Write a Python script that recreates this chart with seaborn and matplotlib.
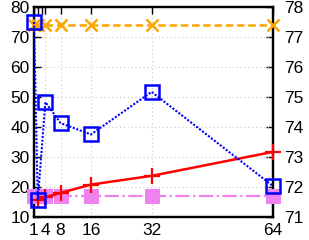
import matplotlib
matplotlib.use("Agg")
import matplotlib.pyplot as plt
import seaborn as sns
import pandas as pd

sns.set_style("white")
plt.rcParams['font.family'] = ['Liberation Sans', 'DejaVu Sans']

x = [1, 2, 4, 8, 16, 32, 64]
orange_vals = [74, 74, 74, 74, 74, 74, 74]
blue_vals = [75, 15.7, 48.3, 41.3, 37.5, 51.7, 20.3]
pink_vals = [17, 17, 17, 17, 17, 17, 17]
red_x = [2, 4, 8, 16, 32, 64]
red_vals = [15.7, 16.6, 18.0, 20.8, 23.7, 31.7]

xticks = [1, 4, 8, 16, 32, 64]
left_ticks = [10, 20, 30, 40, 50, 60, 70, 80]
right_ticks = [71, 72, 73, 74, 75, 76, 77, 78]

fig = plt.figure(figsize=(3.09, 2.40), dpi=100)
ax = fig.add_axes([0.110, 0.096, 0.7735, 0.875])

grid_kw = dict(color='#c8c8c8', linestyle=(0, (1, 2.5)), linewidth=0.8)
ax.set_axisbelow(True)
ax.grid(True, **grid_kw)

df = pd.DataFrame({'x': x, 'orange': orange_vals, 'blue': blue_vals,
                   'pink': pink_vals})
df_red = pd.DataFrame({'x': red_x, 'red': red_vals})

sns.lineplot(data=df, x='x', y='pink', ax=ax, color='#ee82ee', linewidth=1.6,
             linestyle='-.', marker='s', markersize=10, markeredgecolor='#ee82ee',
             markerfacecolor='#ee82ee', estimator=None, sort=False)
sns.lineplot(data=df_red, x='x', y='red', ax=ax, color='#ff0000', linewidth=1.8,
             linestyle='-', marker='+', markersize=11, markeredgewidth=1.6,
             markeredgecolor='#ff0000', estimator=None, sort=False)
sns.lineplot(data=df, x='x', y='orange', ax=ax, color='#ffa500', linewidth=1.8,
             linestyle=(0, (3, 1.5)), marker='x', markersize=9, markeredgewidth=1.8,
             markeredgecolor='#ffa500', estimator=None, sort=False)
sns.lineplot(data=df, x='x', y='blue', ax=ax, color='#0000ff', linewidth=1.5,
             linestyle=(0, (1, 0.8)), marker='s', markersize=10, markeredgewidth=1.8,
             markerfacecolor='none', markeredgecolor='#0000ff', estimator=None, sort=False)
for ln in ax.lines:
    ln.set_clip_on(False)
    ln.set_zorder(3)

ax.set_xlim(1, 64)
ax.set_ylim(10, 80)
ax.set_xticks(xticks)
ax.set_xticklabels([str(t) for t in xticks])
ax.set_xticks([2, 3], minor=True)
ax.set_yticks(left_ticks)
ax.set_xlabel('')
ax.set_ylabel('')
ax.tick_params(axis='both', which='both', direction='in', labelsize=12.5,
               length=5, width=1, colors='black', top=True, pad=4)
ax.tick_params(axis='y', right=False, pad=3)
for s in ax.spines.values():
    s.set_color('black')
    s.set_linewidth(1.6)

ax2 = ax.twinx()
ax2.set_ylim(71, 78)
ax2.set_yticks(right_ticks)
ax2.tick_params(axis='y', direction='in', labelsize=12.5, length=5, width=1,
                colors='black', pad=8)
for s in ax2.spines.values():
    s.set_color('black')
    s.set_linewidth(1.6)
ax2.set_ylabel('')
ax2.set_zorder(ax.get_zorder() - 1)
ax.patch.set_visible(False)

fig.savefig('out.png', dpi=100)
